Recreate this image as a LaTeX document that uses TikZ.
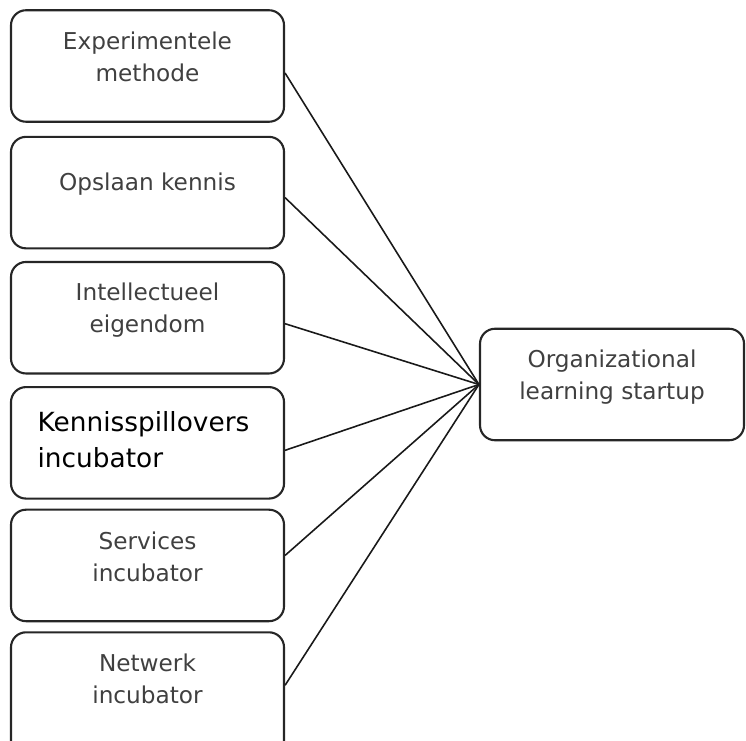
\documentclass[tikz,border=0pt]{standalone}
\usepackage{fontspec}
\setmainfont{DejaVu Sans}
\usetikzlibrary{positioning}

\tikzset{
  factor/.style={draw=black!85, line width=0.6pt, rounded corners=0.15cm,
    minimum width=2.73cm, minimum height=1.115cm, inner sep=0pt},
  boxtext/.style={align=center, text=black!75, inner sep=0pt,
    font=\fontsize{6.6}{9.1}\selectfont},
  link/.style={draw=black!90, line width=0.45pt}
}

\begin{document}
\begin{tikzpicture}
  \useasboundingbox (0,0) rectangle (7.46,-7.40);

  % factoren links
  \node [factor] (exp) at (1.475,-0.66) {};
  \node [factor, below=0.13cm of exp] (ops) {};
  \node [factor, below=0.115cm of ops] (int) {};
  \node [factor, below=0.115cm of int] (ken) {};
  \node [factor, below=0.09cm of ken] (ser) {};
  \node [factor, below=0.09cm of ser, minimum height=1.3cm] (net) {};

  % uitkomst rechts
  \node [factor, minimum width=2.64cm] (org) at (6.12,-3.845) {};

  \node [boxtext] (expt) at ([yshift=0.09cm]exp.center) {Experimentele\\methode};
  \node [boxtext] (opst) at ([yshift=0.09cm]ops.center) {Opslaan kennis};
  \node [boxtext] (intt) at ([yshift=0.08cm]int.center) {Intellectueel\\eigendom};
  \node [boxtext, align=left, anchor=west, text=black,
    font=\fontsize{7.5}{10.2}\selectfont] (kent) at ([xshift=0.27cm,yshift=0.03cm]ken.west) {Kennisspillovers\\incubator};
  \node [boxtext] (sert) at ([yshift=0.09cm]ser.center) {Services\\incubator};
  \node [boxtext] (nett) at ([yshift=0.18cm]net.center) {Netwerk\\incubator};
  \node [boxtext] (orgt) at ([yshift=0.07cm]org.center) {Organizational\\learning startup};

  \draw [link] ([yshift=-0.07cm]exp.east) -- (org.west);
  \draw [link] ([yshift=-0.05cm]ops.east) -- (org.west);
  \draw [link] ([yshift=-0.06cm]int.east) -- (org.west);
  \draw [link] ([yshift=-0.075cm]ken.east) -- (org.west);
  \draw [link] ([yshift=0.10cm]ser.east) -- (org.west);
  \draw [link] ([yshift=0.12cm]net.east) -- (org.west);
\end{tikzpicture}
\end{document}
